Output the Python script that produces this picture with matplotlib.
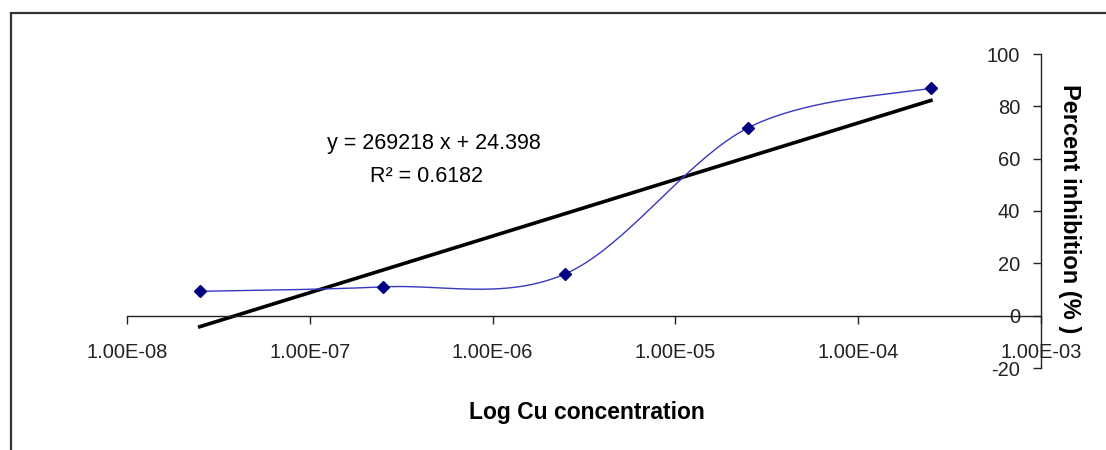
import numpy as np
import matplotlib
matplotlib.use("Agg")
import matplotlib.pyplot as plt
from matplotlib.patches import Rectangle

# data
conc = [2.5e-8, 2.5e-7, 2.5e-6, 2.5e-5, 2.5e-4]
inhibition = [9.3, 11.0, 16.0, 71.8, 87.0]
x_ticks = [1e-8, 1e-7, 1e-6, 1e-5, 1e-4, 1e-3]
x_tick_labels = ["1.00E-08", "1.00E-07", "1.00E-06", "1.00E-05", "1.00E-04", "1.00E-03"]
y_ticks = [-20, 0, 20, 40, 60, 80, 100]
eq_text = "y = 269218 x + 24.398"
r2_text = "R² = 0.6182"

plt.rcParams['font.family'] = ['Liberation Sans', 'DejaVu Sans']
plt.rcParams['axes.unicode_minus'] = False

fig = plt.figure(figsize=(11.06, 4.5), dpi=100)
ax = fig.add_axes([127 / 1106, 1 - 368 / 450, (1041 - 127) / 1106, (368 - 54) / 450])
ax.set_xscale('log')
ax.set_xlim(1e-8, 1e-3)
ax.set_ylim(-20, 100)


def smooth_curve(ax, xs, ys, n=40):
    # Catmull-Rom style smoothing done in screen space, like a spreadsheet smoothed line
    pts = ax.transData.transform(np.column_stack([xs, ys]))
    p = np.vstack([pts[0], pts, pts[-1]])
    out = []
    for i in range(1, len(p) - 2):
        p0, p1, p2, p3 = p[i - 1], p[i], p[i + 1], p[i + 2]
        c1 = p1 + (p2 - p0) / 6
        c2 = p2 - (p3 - p1) / 6
        t = np.linspace(0, 1, n)[:, None]
        seg = ((1 - t) ** 3) * p1 + 3 * ((1 - t) ** 2) * t * c1 + 3 * (1 - t) * t ** 2 * c2 + t ** 3 * p2
        out.append(seg if i == 1 else seg[1:])
    out = np.vstack(out)
    data = ax.transData.inverted().transform(out)
    return data[:, 0], data[:, 1]


sx, sy = smooth_curve(ax, conc, inhibition)
ax.plot(sx, sy, color='#3737c0', lw=1.0, zorder=3)
ax.plot(conc, inhibition, linestyle='none', marker='D', markersize=6.5,
        color='#000080', zorder=4)

# logarithmic trendline fitted to the points
a, b = np.polyfit(np.log10(conc), inhibition, 1)
tx = np.logspace(np.log10(conc[0]), np.log10(conc[-1]), 100)
ax.plot(tx, a * np.log10(tx) + b, color='black', lw=2.6, zorder=2)

# axes crossing: y axis at 1e-3, x axis at 0
ax.spines['left'].set_position(('data', 1e-3))
ax.spines['bottom'].set_position(('data', 0))
ax.spines['top'].set_visible(False)
ax.spines['right'].set_visible(False)
for s in ('left', 'bottom'):
    ax.spines[s].set_linewidth(1.0)
    ax.spines[s].set_color('#222222')

ax.set_xticks(x_ticks)
ax.set_xticklabels(x_tick_labels)
ax.xaxis.set_minor_locator(matplotlib.ticker.NullLocator())
ax.set_yticks(y_ticks)
ax.tick_params(axis='x', direction='out', length=6, width=1, pad=14,
               labelsize=14.5, colors='#222222')
ax.tick_params(axis='y', direction='out', length=6, width=1, pad=9,
               labelsize=14.5, colors='#222222')
ax.patch.set_alpha(0)

fig.text(587 / 1106, 1 - 412 / 450, "Log Cu concentration", fontsize=16.5,
         fontweight='bold', ha='center', va='center')
fig.text(1069 / 1106, 1 - 209 / 450, "Percent inhibition (% )", fontsize=17,
         fontweight='bold', ha='center', va='center', rotation=270)

fig.text(434 / 1106, 1 - 143 / 450, eq_text, fontsize=15.5, ha='center', va='center')
fig.text(427 / 1106, 1 - 177 / 450, r2_text, fontsize=15.5, ha='center', va='center')

# outer chart frame
fig.patches.append(Rectangle((10.5 / 1106, -0.1), 1.2, 1.1 - 13 / 450, fill=False,
                             lw=1.6, edgecolor='#333333', transform=fig.transFigure))

fig.savefig('out.png', dpi=100)
